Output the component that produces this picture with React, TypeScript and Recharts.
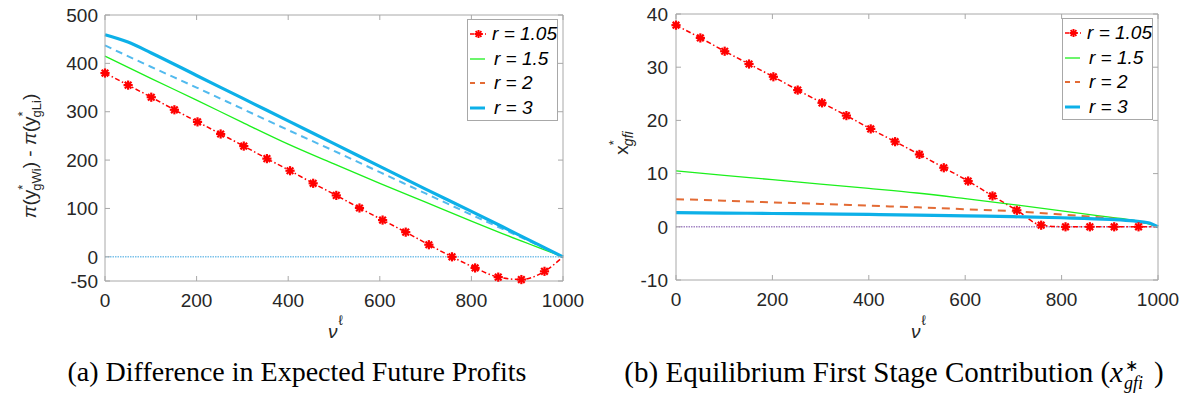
import React from 'react';
import { LineChart, Line, XAxis, YAxis, Legend, Label } from 'recharts';

// ---------- data ----------
const xTicks = [0, 200, 400, 600, 800, 1000];
const profitTicks = [-50, 0, 100, 200, 300, 400, 500];
const contribTicks = [-10, 0, 10, 20, 30, 40];
const legendLabels = ['r = 1.05', 'r = 1.5', 'r = 2', 'r = 3'];

// marker positions of the r = 1.05 series (every 5th of 100 grid points) plus end point
const markerX = [0, 50.5, 101, 151.5, 202, 252.5, 303, 353.5, 404, 454.5, 505, 555.6, 606.1, 656.6, 707.1, 757.6, 808.1, 858.6, 909.1, 959.6, 1000];
const curveX = [0, 100, 200, 300, 400, 500, 600, 700, 800, 900, 1000];
const blueX = [0, 50, 100, 200, 300, 400, 500, 600, 700, 800, 900, 1000];
const tailX = [0, 100, 200, 300, 400, 500, 600, 700, 800, 900, 950, 980, 1000];
const zeroX = [0, 1000];
const zeroY = [0, 0];

// (a) difference in expected future profits
const profitR105 = [380, 355, 330, 304, 279, 254, 229, 203, 178, 152, 127, 101, 76, 51, 25, 0, -23, -42, -47, -30, 0];
const profitR15 = [415, 369, 324, 278, 233, 192, 152, 113, 74, 36, 0];
const profitR2 = [437, 393, 350, 306, 262, 219, 175, 131, 87, 44, 0];
const profitR3 = [459, 444, 422, 375, 328, 281, 234, 187, 140, 94, 47, 0];

// (b) equilibrium first stage contribution
const contribR105 = [37.9, 35.5, 33.0, 30.6, 28.2, 25.7, 23.3, 20.9, 18.4, 16.0, 13.6, 11.1, 8.6, 5.8, 3.1, 0.3, 0, 0, 0, 0, 0];
const contribR15 = [10.5, 9.68, 8.86, 8.04, 7.22, 6.35, 5.29, 4.17, 3.0, 1.8, 1.2, 0.55, 0];
const contribR2 = [5.2, 4.9, 4.6, 4.3, 3.97, 3.66, 3.3, 2.92, 2.3, 1.6, 1.05, 0.6, 0];
const contribR3 = [2.65, 2.58, 2.5, 2.42, 2.33, 2.2, 2.05, 1.9, 1.7, 1.4, 1.1, 0.75, 0];

// ---------- helpers / styles ----------
const zip = (xs: number[], ys: number[]) => xs.map((x, i) => ({ x, y: ys[i] }));

const FONT = '"Liberation Sans", Arial, Helvetica, sans-serif';
const SERIF = '"Liberation Serif", "Times New Roman", Times, serif';
const INK = '#262626';
const FRAME = '#a8a8a8';
const RED = '#ff0000';
const GREEN = '#1cf01c';
const ORANGE = '#e36b35';
const BLUE = '#0db0e8';
const LIGHTBLUE = '#52baee';

const Star = (props: any) => {
  const { cx, cy, index } = props;
  if (cx == null || cy == null || index === markerX.length - 1) return <g key={`s-${index}`} />;
  const r = 4.6;
  const d = r * 0.72;
  return (
    <g key={`s-${index}`} stroke={RED} strokeWidth={2.2}>
      <line x1={cx - r} y1={cy} x2={cx + r} y2={cy} />
      <line x1={cx} y1={cy - r} x2={cx} y2={cy + r} />
      <line x1={cx - d} y1={cy - d} x2={cx + d} y2={cy + d} />
      <line x1={cx - d} y1={cy + d} x2={cx + d} y2={cy - d} />
    </g>
  );
};

const tickStyle = { fontFamily: FONT, fontSize: 19, fill: INK };

const LegendBox = ({ dashedColor }: { dashedColor: string }) => {
  const rows = [
    (
      <svg width={17} height={12}>
        <line x1={0} y1={6} x2={17} y2={6} stroke={RED} strokeWidth={1.5} strokeDasharray="4 2 1 2" />
        <g stroke={RED} strokeWidth={2}>
          <line x1={4.5} y1={6} x2={12.5} y2={6} />
          <line x1={8.5} y1={2} x2={8.5} y2={10} />
          <line x1={5.6} y1={3.1} x2={11.4} y2={8.9} />
          <line x1={5.6} y1={8.9} x2={11.4} y2={3.1} />
        </g>
      </svg>
    ),
    (
      <svg width={17} height={12}>
        <line x1={0} y1={6} x2={15} y2={6} stroke={GREEN} strokeWidth={1.3} />
      </svg>
    ),
    (
      <svg width={17} height={12}>
        <line x1={0} y1={6} x2={15} y2={6} stroke={dashedColor} strokeWidth={1.8} strokeDasharray="5 5" />
      </svg>
    ),
    (
      <svg width={17} height={12}>
        <line x1={0} y1={6} x2={15} y2={6} stroke={BLUE} strokeWidth={3} />
      </svg>
    ),
  ];
  return (
    <div
      style={{
        width: 89,
        height: 98,
        border: `1px solid ${FRAME}`,
        background: '#fff',
        paddingTop: 2,
        boxSizing: 'content-box',
      }}
    >
      {legendLabels.map((lab, i) => (
        <div key={lab} style={{ height: 24.5, display: 'flex', alignItems: 'center' }}>
          <div style={{ width: 24, paddingLeft: 2, display: 'flex', alignItems: 'center' }}>{rows[i]}</div>
          <span style={{ fontFamily: FONT, fontStyle: 'italic', fontSize: 19, color: '#000', whiteSpace: 'nowrap', lineHeight: '20px' }}>{lab}</span>
        </div>
      ))}
    </div>
  );
};

const renderProfitYLabel = (props: any) => {
  const vb = props.viewBox || {};
  const cy = (vb.y ?? 15) + (vb.height ?? 266) / 2 + 8;
  const cx = 36;
  return (
    <text x={cx} y={cy} transform={`rotate(-90 ${cx} ${cy})`} textAnchor="middle" style={{ fontFamily: FONT, fontSize: 19, fill: INK }}>
      <tspan fontStyle="italic">π</tspan>
      <tspan>(y</tspan>
      <tspan fontSize={13} dy={-9}>*</tspan>
      <tspan fontSize={13} dx={-6} dy={14}>gWi</tspan>
      <tspan dy={-5}>{') - '}</tspan>
      <tspan fontStyle="italic">π</tspan>
      <tspan>(y</tspan>
      <tspan fontSize={13} dy={-9}>*</tspan>
      <tspan fontSize={13} dx={-6} dy={14}>gLi</tspan>
      <tspan dy={-5}>)</tspan>
    </text>
  );
};

const renderContribYLabel = (props: any) => {
  const vb = props.viewBox || {};
  const cy = (vb.y ?? 14) + (vb.height ?? 266) / 2 - 4;
  const cx = 38;
  return (
    <text x={cx} y={cy} transform={`rotate(-90 ${cx} ${cy})`} textAnchor="middle" style={{ fontFamily: FONT, fontSize: 19, fill: INK }}>
      <tspan>x</tspan>
      <tspan fontSize={13} dy={-10}>*</tspan>
      <tspan fontSize={14} fontStyle="italic" dx={-6} dy={15}>gfi</tspan>
    </text>
  );
};

const renderXLabel = (props: any) => {
  const vb = props.viewBox || {};
  const cx = (vb.x ?? 0) + (vb.width ?? 0) / 2;
  return (
    <text x={cx - 6} y={338} style={{ fontFamily: FONT, fontSize: 19, fill: INK }}>
      <tspan fontStyle="italic">ν</tspan>
      <tspan fontSize={14} dx={1} dy={-13}>ℓ</tspan>
    </text>
  );
};

interface PanelProps {
  width: number;
  height: number;
  margin: { top: number; right: number; bottom: number; left: number };
  domain: [number, number];
  yTicks: number[];
  yTickMargin: number;
  series: { data: { x: number; y: number }[]; color: string; width: number; dash?: string; star?: boolean }[];
  zeroColor: string;
  yLabel: (p: any) => React.ReactElement;
  legendPos: { left: number; top: number };
  legendDashColor: string;
}

const Panel = (p: PanelProps) => (
  <LineChart width={p.width} height={p.height} margin={p.margin}>
    <XAxis
      xAxisId="b"
      dataKey="x"
      type="number"
      domain={[0, 1000]}
      ticks={xTicks}
      interval={0}
      height={30}
      tickSize={-5}
      tickMargin={18}
      tick={tickStyle}
      stroke={FRAME}
    >
      <Label content={renderXLabel} />
    </XAxis>
    <XAxis
      xAxisId="t"
      orientation="top"
      dataKey="x"
      type="number"
      domain={[0, 1000]}
      ticks={xTicks}
      interval={0}
      height={1}
      tickSize={-5}
      tickFormatter={() => ''}
      stroke={FRAME}
    />
    <YAxis
      yAxisId="l"
      type="number"
      domain={p.domain}
      ticks={p.yTicks}
      interval={0}
      width={60}
      tickSize={-5}
      tickMargin={p.yTickMargin}
      tick={tickStyle}
      stroke={FRAME}
    >
      <Label content={p.yLabel} />
    </YAxis>
    <YAxis
      yAxisId="r"
      orientation="right"
      type="number"
      domain={p.domain}
      ticks={p.yTicks}
      interval={0}
      width={1}
      tickSize={-5}
      tickFormatter={() => ''}
      stroke={FRAME}
    />
    <Line
      xAxisId="t"
      yAxisId="r"
      data={zip(zeroX, zeroY)}
      dataKey="y"
      type="linear"
      stroke={p.zeroColor}
      strokeWidth={1.6}
      strokeDasharray="1.5 1"
      dot={false}
      activeDot={false}
      isAnimationActive={false}
    />
    {p.series.map((s, i) => (
      <Line
        key={i}
        xAxisId="b"
        yAxisId="l"
        data={s.data}
        dataKey="y"
        type="monotone"
        stroke={s.color}
        strokeWidth={s.width}
        strokeDasharray={s.dash}
        dot={s.star ? Star : false}
        activeDot={false}
        isAnimationActive={false}
      />
    ))}
    <Legend
      layout="vertical"
      align="center"
      verticalAlign="middle"
      content={() => <LegendBox dashedColor={p.legendDashColor} />}
      wrapperStyle={{ left: p.legendPos.left, top: p.legendPos.top, width: 91, height: 101 }}
    />
  </LineChart>
);

export default function App() {
  const profitSeries = [
    { data: zip(markerX, profitR105), color: RED, width: 1.5, dash: '5 2.5 1.5 2.5', star: true },
    { data: zip(curveX, profitR15), color: GREEN, width: 1.3 },
    { data: zip(curveX, profitR2), color: LIGHTBLUE, width: 2, dash: '7 5' },
    { data: zip(blueX, profitR3), color: BLUE, width: 3.2 },
  ];
  const contribSeries = [
    { data: zip(markerX, contribR105), color: RED, width: 1.5, dash: '5 2.5 1.5 2.5', star: true },
    { data: zip(tailX, contribR15), color: GREEN, width: 1.3 },
    { data: zip(tailX, contribR2), color: ORANGE, width: 2, dash: '8 6' },
    { data: zip(tailX, contribR3), color: BLUE, width: 3.2 },
  ];
  const captionStyle: React.CSSProperties = {
    position: 'absolute', top: 356, textAlign: 'center',
    fontFamily: SERIF, fontSize: 28, lineHeight: '32px', color: '#000', whiteSpace: 'nowrap',
  };
  return (
    <div style={{ position: 'absolute', left: 0, top: 0, width: 1186, height: 396, background: '#fff', overflow: 'hidden' }}>
      <div style={{ position: 'absolute', left: 0, top: 0 }}>
        <Panel
          width={600}
          height={345}
          margin={{ top: 14, right: 36, bottom: 34, left: 45 }}
          domain={[-50, 500]}
          yTicks={profitTicks}
          yTickMargin={12}
          series={profitSeries}
          zeroColor="#7cc2ea"
          yLabel={renderProfitYLabel}
          legendPos={{ left: 467, top: 19 }}
          legendDashColor={ORANGE}
        />
      </div>
      <div style={{ position: 'absolute', left: 590, top: 0 }}>
        <Panel
          width={596}
          height={345}
          margin={{ top: 13, right: 27, bottom: 35, left: 26 }}
          domain={[-10, 40]}
          yTicks={contribTicks}
          yTickMargin={13}
          series={contribSeries}
          zeroColor="#a486c4"
          yLabel={renderContribYLabel}
          legendPos={{ left: 472, top: 18 }}
          legendDashColor={ORANGE}
        />
      </div>
      <div style={{ ...captionStyle, left: 0, width: 594 }}>
        (a) Difference in Expected Future Profits
      </div>
      <div style={{ ...captionStyle, left: 600, width: 588, fontSize: 29 }}>
        (b) Equilibrium First Stage Contribution (<i>x</i>
        <span style={{ position: 'relative', display: 'inline-block', width: 31, height: 20, lineHeight: '12px' }}>
          <span style={{ position: 'absolute', left: 2, top: -2, fontSize: 16, lineHeight: '12px' }}>∗</span>
          <span style={{ position: 'absolute', left: 1, top: 15, fontSize: 18, lineHeight: '12px', fontStyle: 'italic' }}>gfi</span>
        </span>
        )
      </div>
    </div>
  );
}
